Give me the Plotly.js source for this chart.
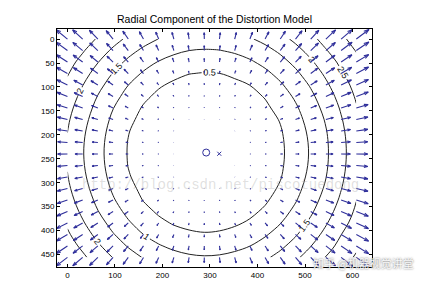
<!DOCTYPE html>
<html>
<head>
<meta charset="utf-8">
<script src="https://cdn.plot.ly/plotly-3.0.1.min.js"></script>
<style>
  html, body { margin: 0; padding: 0; background: #fff; }
  #chart { width: 426px; height: 286px; }
</style>
</head>
<body>
<div id="chart"></div>
<script>
// ---- data ----
const chartTitle = "Radial Component of the Distortion Model";
// sampling grid of the distortion field (image pixels)
const gridX = [0, 32, 64, 96, 128, 160, 192, 224, 256, 288, 320, 352, 384, 416, 448, 480, 512, 544, 576, 608];
const gridY = [0, 24, 48, 72, 96, 120, 144, 168, 192, 216, 240, 264, 288, 312, 336, 360, 384, 408, 432, 456];
// radial displacement (pixels) against distance from the principal point
const profileRadius = [0, 60, 120, 168, 216, 258, 295, 332, 379, 420];
const profileShift  = [0, 0.02, 0.18, 0.5, 1.0, 1.5, 2.0, 2.5, 3.0, 3.45];
const contourLevels = [0.5, 1, 1.5, 2, 2.5, 3];
const principalPoint = [292, 237];   // 'o'
const imageCenter = [319.5, 239.5];  // 'x'
const xTicks = [0, 100, 200, 300, 400, 500, 600];
const yTicks = [0, 50, 100, 150, 200, 250, 300, 350, 400, 450];
const watermark1 = "http://blog.csdn.net/piscotuedong";
const watermark2 = "知乎 @机器视觉讲堂";

// ---- helpers ----
function shiftAt(r) {
  for (let k = 1; k < profileRadius.length; k++) {
    if (r <= profileRadius[k]) {
      const t = (r - profileRadius[k-1]) / (profileRadius[k] - profileRadius[k-1]);
      return profileShift[k-1] + t * (profileShift[k] - profileShift[k-1]);
    }
  }
  const n = profileRadius.length - 1;
  return profileShift[n] + (r - profileRadius[n]) * (profileShift[n] - profileShift[n-1]) / (profileRadius[n] - profileRadius[n-1]);
}

// field on the grid
const z = gridY.map(y => gridX.map(x => shiftAt(Math.hypot(x - principalPoint[0], y - principalPoint[1]))));

// quiver (tail at grid point, MATLAB-like arrow heads)
const arrowScale = 10.5;
const alpha = 0.33, beta = 0.33;
const qx = [], qy = [];
gridY.forEach((y, j) => {
  gridX.forEach((x, i) => {
    const dx = x - principalPoint[0], dy = y - principalPoint[1];
    const d = Math.hypot(dx, dy) || 1;
    const m = z[j][i] * arrowScale;
    const u = m * dx / d, v = m * dy / d;
    const tx = x + u, ty = y + v;
    qx.push(x, tx, null);
    qy.push(y, ty, null);
    qx.push(tx - alpha * (u + beta * v), tx, tx - alpha * (u - beta * v), null);
    qy.push(ty - alpha * (v - beta * u), ty, ty - alpha * (v + beta * u), null);
  });
});

const arrowColor = "#2e2e9a";
const traces = [
  {
    type: "scatter", mode: "lines", x: qx, y: qy,
    line: { color: arrowColor, width: 1.1 }, hoverinfo: "skip", showlegend: false
  },
  {
    type: "contour", x: gridX, y: gridY, z: z,
    autocontour: false,
    contours: {
      start: contourLevels[0], end: contourLevels[contourLevels.length - 1],
      size: contourLevels[1] - contourLevels[0],
      coloring: "none", showlabels: true,
      labelfont: { family: "Liberation Sans, Arial, sans-serif", size: 9, color: "#111" }
    },
    line: { color: "#222", width: 1, smoothing: 1 },
    showscale: false, hoverinfo: "skip"
  },
  {
    type: "scatter", mode: "markers", x: [principalPoint[0]], y: [principalPoint[1]],
    marker: { symbol: "circle-open", size: 7, color: arrowColor, line: { width: 1, color: arrowColor } },
    showlegend: false, hoverinfo: "skip"
  },
  {
    type: "scatter", mode: "markers", x: [imageCenter[0]], y: [imageCenter[1]],
    marker: { symbol: "x-thin-open", size: 4, color: arrowColor, line: { width: 1, color: arrowColor } },
    showlegend: false, hoverinfo: "skip"
  }
];

const axisCommon = {
  showline: true, mirror: "ticks", linecolor: "#000", linewidth: 1,
  ticks: "inside", ticklen: 3, tickcolor: "#000", tickwidth: 1,
  showgrid: false, zeroline: false,
  tickfont: { family: "Liberation Sans, Arial, sans-serif", size: 8, color: "#000" }
};

const layout = {
  width: 426, height: 286,
  margin: { l: 57, r: 54, t: 29, b: 19, pad: 0 },
  paper_bgcolor: "#fff", plot_bgcolor: "#fff",
  showlegend: false,
  title: {
    text: chartTitle,
    font: { family: "Liberation Sans, Arial, sans-serif", size: 10.5, color: "#000" },
    x: 0.5, xref: "paper", y: 1 - 19 / 286, yref: "container", yanchor: "middle"
  },
  xaxis: Object.assign({}, axisCommon, {
    range: [-22, 641], tickvals: xTicks, ticktext: xTicks.map(String)
  }),
  yaxis: Object.assign({}, axisCommon, {
    range: [476, -21], tickvals: yTicks, ticktext: yTicks.map(String)
  }),
  annotations: [
    {
      text: watermark1, xref: "paper", yref: "paper", x: 0.52, y: 0.345,
      showarrow: false, xanchor: "center", yanchor: "middle",
      font: { family: "Liberation Mono, DejaVu Sans Mono, monospace", size: 14, color: "rgba(150,150,150,0.3)" }
    },
    {
      text: watermark2, xref: "paper", yref: "paper", x: 1.14, y: 0.015,
      showarrow: false, xanchor: "right", yanchor: "middle",
      font: { family: "Noto Sans CJK SC, sans-serif", size: 11, color: "rgba(255,255,255,0.95)", shadow: "0px 0px 2px #555" }
    }
  ]
};

Plotly.newPlot("chart", traces, layout, { displayModeBar: false, staticPlot: true });
</script>
</body>
</html>
